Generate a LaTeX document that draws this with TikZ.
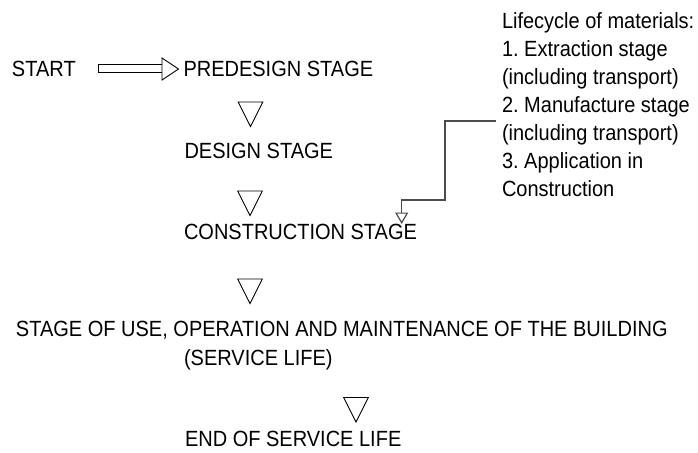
\documentclass[tikz,border=0pt]{standalone}
\usepackage{fontspec}
\setmainfont{Liberation Sans}
\usepackage{graphicx}
\usetikzlibrary{arrows.meta,calc}
\frenchspacing
\newcommand\tallt[1]{\scalebox{1}[1.1]{#1}}
\tikzset{
  lbl/.style={anchor=base west, inner sep=0pt, outer sep=0pt, font=\fontsize{20}{25.55}\selectfont\frenchspacing},
  hollow/.style={draw=black, line width=0.9pt, fill=white, line join=miter},
  feed/.style={draw=black!70, line width=1.2pt},
  downtri/.pic={\draw[hollow] (-12.3,0) -- (12.3,0) -- (0,24.5) -- cycle;}
}
\begin{document}
\begin{tikzpicture}[x=1pt,y=-1pt]
\fill[white] (0,0) rectangle (698,452);
\useasboundingbox (0,0) rectangle (698,452);

\node[lbl] (start) at (12,76) {\tallt{START}};
\node[lbl] (pre) at (183.5,76) {\tallt{PREDESIGN STAGE}};
\node[lbl] (des) at (184.5,158.5) {\tallt{DESIGN STAGE}};
\node[lbl] (con) at (184,239) {\tallt{CONSTRUCTION STAGE}};
\node[lbl] (use) at (16,336) {\tallt{STAGE OF USE, OPERATION AND MAINTENANCE OF THE BUILDING}};
\node[lbl] (svc) at (184,365) {\tallt{(SERVICE LIFE)}};
\node[lbl] (end) at (185,446.7) {\tallt{END OF SERVICE LIFE}};
\node[lbl] (life) at (502,28.3) {\tallt{\begin{tabular}[t]{@{}l@{}}Lifecycle of materials:\\
1. Extraction stage\\
(including transport)\\
2. Manufacture stage\\
(including transport)\\
3. Application in\\
Construction\end{tabular}}};

% double hollow arrow START -> PREDESIGN
\coordinate (a1) at (98,68.3);
\coordinate (a2) at (178.5,69);
\draw[hollow] (a1) ++(0,-4.3) rectangle ++(64,8.5);
\draw[hollow] (a2) -- ++(-16.5,-11) -- ++(0,22) -- cycle;

% stage triangles
\pic at (250.5,102) {downtri};
\pic at (250,191) {downtri};
\pic at (250,279) {downtri};
\pic at (356,397.5) {downtri};

% materials feed connector
\coordinate (lf) at (496,121);
\coordinate (ct) at (401.7,224);
\draw[feed, -{Triangle[open,length=11.5pt,width=13pt]}] (lf) -- (445,121) |- (401.7,200) -- (ct);
\end{tikzpicture}
\end{document}
